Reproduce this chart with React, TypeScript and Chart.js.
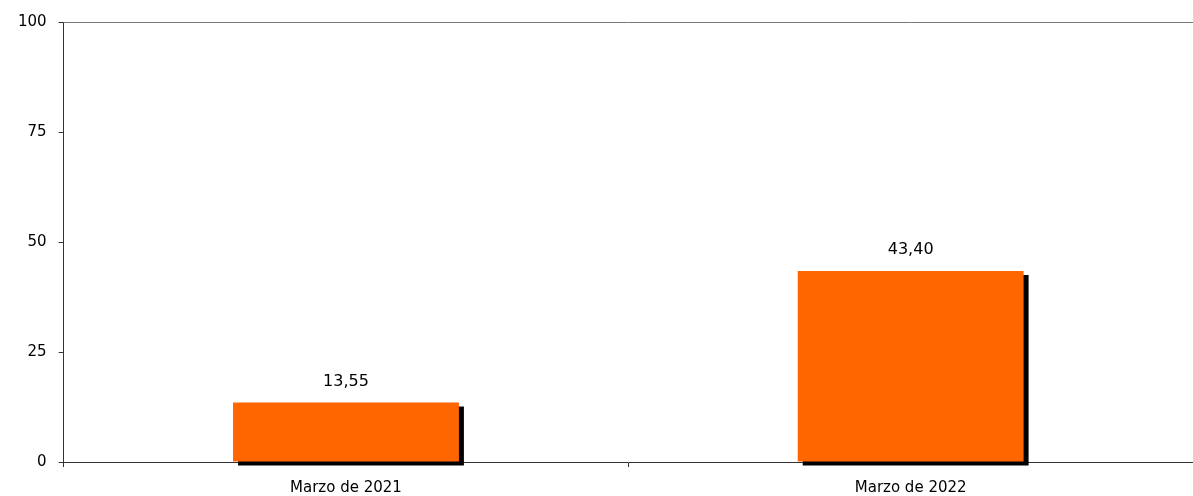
import { useEffect, useRef } from "react";
import { Chart, registerables } from "chart.js";

Chart.register(...registerables);

const categories = ["Marzo de 2021", "Marzo de 2022"];
const values = [13.55, 43.4];
const yTicks = [0, 25, 50, 75, 100];

const FONT = "'DejaVu Sans', sans-serif";

const extras = {
  id: "extras",
  beforeDatasetsDraw(chart: Chart) {
    const ctx = chart.ctx;
    ctx.save();
    ctx.shadowColor = "#000";
    ctx.shadowOffsetX = 5;
    ctx.shadowOffsetY = 4;
    ctx.shadowBlur = 0;
  },
  afterDatasetsDraw(chart: Chart) {
    const ctx = chart.ctx;
    ctx.restore();
    const meta = chart.getDatasetMeta(0);
    ctx.save();
    ctx.fillStyle = "#000";
    ctx.font = `16px ${FONT}`;
    ctx.textAlign = "center";
    ctx.textBaseline = "bottom";
    meta.data.forEach((bar: any, i: number) => {
      ctx.fillText(values[i].toFixed(2).replace(".", ","), bar.x, bar.y - 13);
    });
    // top border
    const { left, right, top } = chart.chartArea;
    ctx.strokeStyle = "#777";
    ctx.lineWidth = 1;
    ctx.beginPath();
    ctx.moveTo(left, top + 0.5);
    ctx.lineTo(right, top + 0.5);
    ctx.stroke();
    ctx.restore();
  },
};

export default function App() {
  const ref = useRef<HTMLCanvasElement>(null);

  useEffect(() => {
    if (!ref.current) return;
    const chart = new Chart(ref.current, {
      type: "bar",
      data: {
        labels: categories,
        datasets: [
          {
            data: values,
            backgroundColor: "#ff6600",
            barPercentage: 0.8,
            categoryPercentage: 0.5,
            clip: false as any,
          },
        ],
      },
      options: {
        animation: false,
        responsive: true,
        maintainAspectRatio: false,
        layout: { padding: { top: 22, right: 0, left: 6, bottom: 0 } },
        plugins: { legend: { display: false }, tooltip: { enabled: false } },
        scales: {
          x: {
            afterFit: (axis: any) => {
              axis.height = 34;
            },
            grid: { display: true, drawOnChartArea: false, tickLength: 5, color: "#333", offset: true },
            border: { color: "#333" },
            ticks: { color: "#000", font: { family: FONT, size: 15 }, padding: 12 },
          },
          y: {
            min: 0,
            max: 100,
            afterBuildTicks: (axis: any) => {
              axis.ticks = yTicks.map((v) => ({ value: v }));
            },
            grid: { display: true, drawOnChartArea: false, tickLength: 5, color: "#333" },
            border: { color: "#333" },
            ticks: { color: "#000", font: { family: FONT, size: 15 }, padding: 12 },
          },
        },
      },
      plugins: [extras],
    });
    return () => chart.destroy();
  }, []);

  return (
    <div style={{ position: "fixed", inset: 0, background: "#fff" }}>
      <canvas ref={ref}></canvas>
    </div>
  );
}
